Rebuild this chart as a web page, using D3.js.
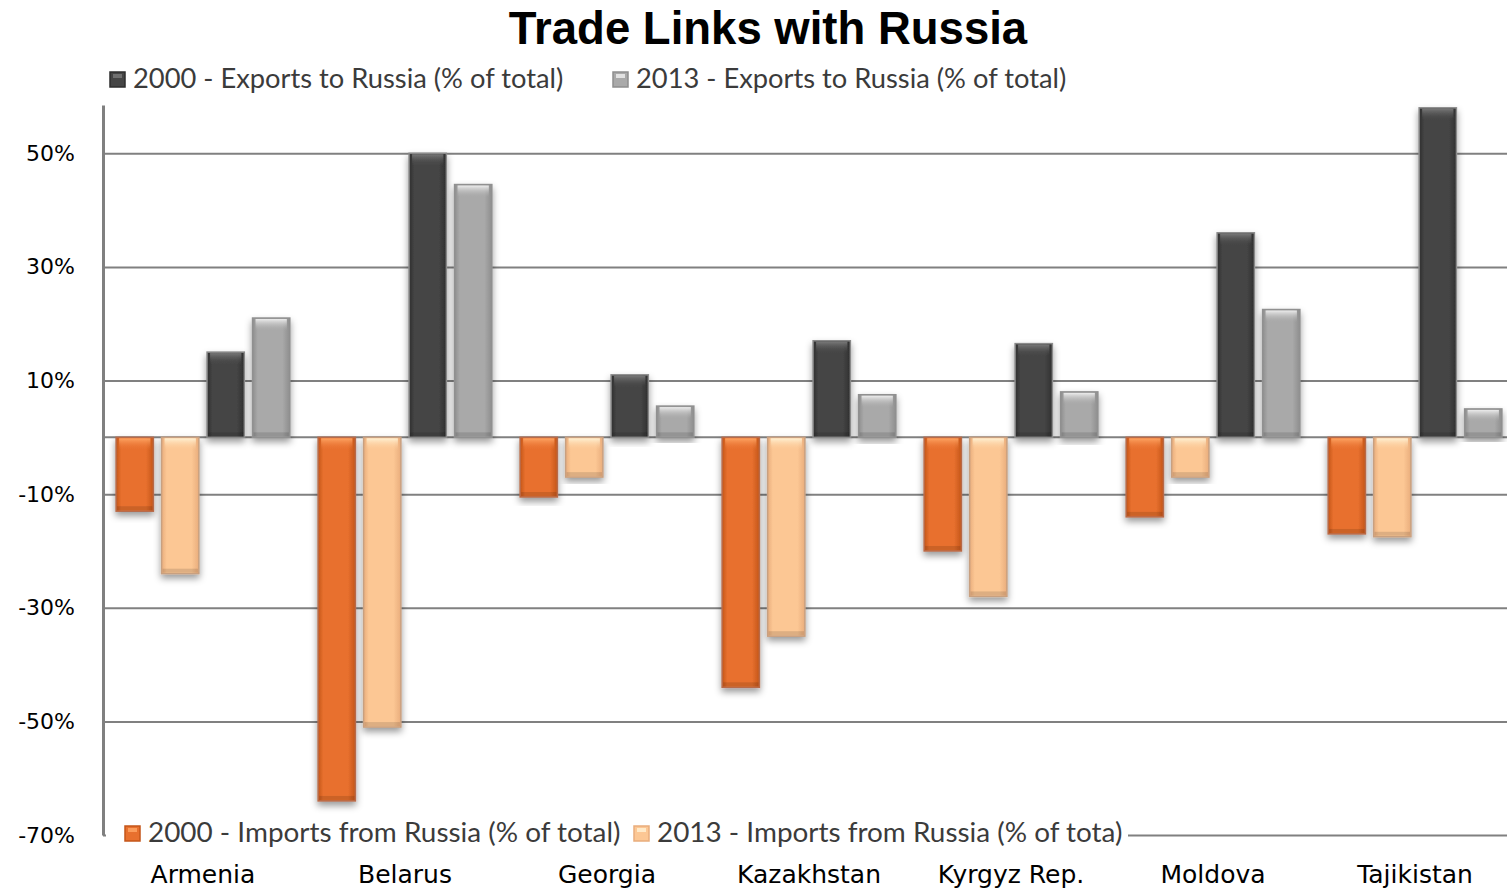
<!DOCTYPE html>
<html>
<head>
<meta charset="utf-8">
<script src="https://cdn.jsdelivr.net/npm/d3@7"></script>
<style>
  body { margin: 0; background: #fff; }
  svg { display: block; }
</style>
</head>
<body>
<div id="chart"></div>
<script>
// data (percent of total trade)
var countries = ["Armenia", "Belarus", "Georgia", "Kazakhstan", "Kyrgyz Rep.", "Moldova", "Tajikistan"];
var imports2000 = [-13, -64, -10.5, -44, -20, -14, -17];
var imports2013 = [-24, -51, -7, -35, -28, -7, -17.5];
var exports2000 = [15, 50, 11, 17, 16.5, 36, 58];
var exports2013 = [21, 44.5, 5.5, 7.5, 8, 22.5, 5];
var tickValues = [50, 30, 10, -10, -30, -50, -70];

var seriesNames = ["imp2000", "imp2013", "exp2000", "exp2013"];
var seriesLabels = {
  exp2000: "2000 - Exports to Russia (% of total)",
  exp2013: "2013 - Exports to Russia (% of total)",
  imp2000: "2000 - Imports from Russia (% of total)",
  imp2013: "2013 - Imports from Russia (% of tota)"
};
// edge, body, highlight, outline
var seriesColors = {
  exp2000: ["#2e2e2e", "#454545", "#7a7a7a", "#8a8a8a"],
  exp2013: ["#8e8e8e", "#a9a9a9", "#f0f0f0", "#909090"],
  imp2000: ["#c4561a", "#e8702e", "#ffa766", "#b86a48"],
  imp2013: ["#e9ad7c", "#fcc794", "#fff3d6", "#c8a080"]
};

var W = 1507, H = 889;
var plotLeft = 103, plotRight = 1507, plotTop = 105, plotBottom = 835;

var svg = d3.select("#chart")
  .append("svg")
    .attr("width", W)
    .attr("height", H);

var defs = svg.append("defs");

var shadow = defs.append("filter")
    .attr("id", "shadow")
    .attr("x", "-30%").attr("y", "-10%")
    .attr("width", "160%").attr("height", "125%");
shadow.append("feDropShadow")
    .attr("dx", 0).attr("dy", 4)
    .attr("stdDeviation", 3.5)
    .attr("flood-color", "#000")
    .attr("flood-opacity", 0.4);

seriesNames.forEach(function (s) {
  var c = seriesColors[s];
  var g = defs.append("linearGradient")
      .attr("id", "grad-" + s)
      .attr("x1", "0%").attr("x2", "100%").attr("y1", "0%").attr("y2", "0%");
  g.append("stop").attr("offset", "0%").attr("stop-color", c[0]);
  g.append("stop").attr("offset", "14%").attr("stop-color", c[1]);
  g.append("stop").attr("offset", "80%").attr("stop-color", c[1]);
  g.append("stop").attr("offset", "100%").attr("stop-color", c[0]);

  var t = defs.append("linearGradient")
      .attr("id", "cap-" + s)
      .attr("x1", "0%").attr("x2", "0%").attr("y1", "0%").attr("y2", "100%");
  t.append("stop").attr("offset", "0%").attr("stop-color", c[2]).attr("stop-opacity", 0.95);
  t.append("stop").attr("offset", "100%").attr("stop-color", c[1]).attr("stop-opacity", 0);
});

// scales
var x0 = d3.scaleBand()
    .domain(countries)
    .range([plotLeft + 3, plotRight + 5])
    .paddingInner(0.14)
    .paddingOuter(0.05);

var x1 = d3.scaleBand()
    .domain(seriesNames)
    .range([0, x0.bandwidth()])
    .paddingInner(0.18);

var y = d3.scaleLinear()
    .domain([-70, 58.5])
    .range([plotBottom, plotTop]);

// title
svg.append("text")
    .attr("x", 768)
    .attr("y", 44)
    .attr("text-anchor", "middle")
    .style("font-family", "Liberation Sans, Arial, sans-serif")
    .style("font-weight", "bold")
    .style("font-size", "45.5px")
    .style("fill", "#000")
    .text("Trade Links with Russia");

// y axis with gridlines
var yAxis = svg.append("g")
    .attr("transform", "translate(" + plotLeft + ",0)")
    .call(d3.axisLeft(y)
      .tickValues(tickValues)
      .tickSize(-(plotRight - plotLeft))
      .tickSizeOuter(0)
      .tickPadding(28)
      .tickFormat(function (d) { return d + "%"; }));
yAxis.selectAll(".tick line")
    .attr("stroke", "#808080")
    .attr("stroke-width", 2);
yAxis.select(".domain")
    .attr("stroke", "#808080")
    .attr("stroke-width", 3);
yAxis.selectAll(".tick text")
    .style("font-family", "DejaVu Sans, sans-serif")
    .style("font-size", "22px")
    .style("fill", "#000");

// zero line
svg.append("line")
    .attr("x1", plotLeft).attr("x2", plotRight)
    .attr("y1", y(0)).attr("y2", y(0))
    .attr("stroke", "#808080")
    .attr("stroke-width", 2);

// bars
var rows = countries.map(function (c, i) {
  return {
    country: c,
    values: [
      {key: "imp2000", value: imports2000[i]},
      {key: "imp2013", value: imports2013[i]},
      {key: "exp2000", value: exports2000[i]},
      {key: "exp2013", value: exports2013[i]}
    ]
  };
});

var groups = svg.append("g")
  .selectAll("g")
  .data(rows)
  .join("g")
    .attr("transform", function (d) { return "translate(" + x0(d.country) + ",0)"; });

var bars = groups.selectAll("g")
  .data(function (d) { return d.values; })
  .join("g")
    .attr("filter", "url(#shadow)");

bars.append("rect")
    .attr("x", function (d) { return x1(d.key); })
    .attr("y", function (d) { return Math.min(y(d.value), y(0)); })
    .attr("width", x1.bandwidth())
    .attr("height", function (d) { return Math.abs(y(d.value) - y(0)); })
    .attr("fill", function (d) { return "url(#grad-" + d.key + ")"; })
    .attr("stroke", function (d) { return seriesColors[d.key][3]; })
    .attr("stroke-width", 1.5);

// top bevel highlight
bars.append("rect")
    .attr("x", function (d) { return x1(d.key) + 3; })
    .attr("y", function (d) { return Math.min(y(d.value), y(0)) + 1; })
    .attr("width", x1.bandwidth() - 6)
    .attr("height", function (d) { return Math.min(12, Math.abs(y(d.value) - y(0)) - 2); })
    .attr("fill", function (d) { return "url(#cap-" + d.key + ")"; });

// bottom bevel shade
bars.append("rect")
    .attr("x", function (d) { return x1(d.key) + 1; })
    .attr("y", function (d) { return Math.max(y(d.value), y(0)) - 5; })
    .attr("width", x1.bandwidth() - 2)
    .attr("height", 4)
    .attr("fill", "#000")
    .attr("opacity", 0.12);

// category labels
svg.append("g")
  .selectAll("text")
  .data(countries)
  .join("text")
    .attr("x", function (d) { return x0(d) + x0.bandwidth() / 2; })
    .attr("y", 883)
    .attr("text-anchor", "middle")
    .style("font-family", "DejaVu Sans, sans-serif")
    .style("font-size", "25px")
    .style("fill", "#000")
    .text(function (d) { return d; });

// legends
function legend(keys, xs, yBase, size) {
  var g = svg.append("g");
  keys.forEach(function (k, i) {
    var c = seriesColors[k];
    g.append("rect")
        .attr("x", xs[i] - 23).attr("y", yBase - 16)
        .attr("width", 15).attr("height", 15)
        .attr("fill", c[1])
        .attr("stroke", c[0])
        .attr("stroke-width", 1.5);
    g.append("rect")
        .attr("x", xs[i] - 20).attr("y", yBase - 14)
        .attr("width", 9).attr("height", 4)
        .attr("fill", c[2])
        .attr("opacity", 0.8);
    g.append("text")
        .attr("x", xs[i])
        .attr("y", yBase)
        .style("font-family", "Lato, sans-serif")
        .style("font-size", size + "px")
        .style("fill", "#3b3b3b")
        .text(seriesLabels[k]);
  });
  return g;
}

legend(["exp2000", "exp2013"], [133, 636], 88, 27.3);

// bottom legend sits on the -70% gridline with a white box
svg.append("rect")
    .attr("x", plotLeft + 3).attr("y", 815)
    .attr("width", 1128 - plotLeft - 3).attr("height", 38)
    .attr("fill", "#fff");
legend(["imp2000", "imp2013"], [148, 657], 842, 27.9);
</script>
</body>
</html>
